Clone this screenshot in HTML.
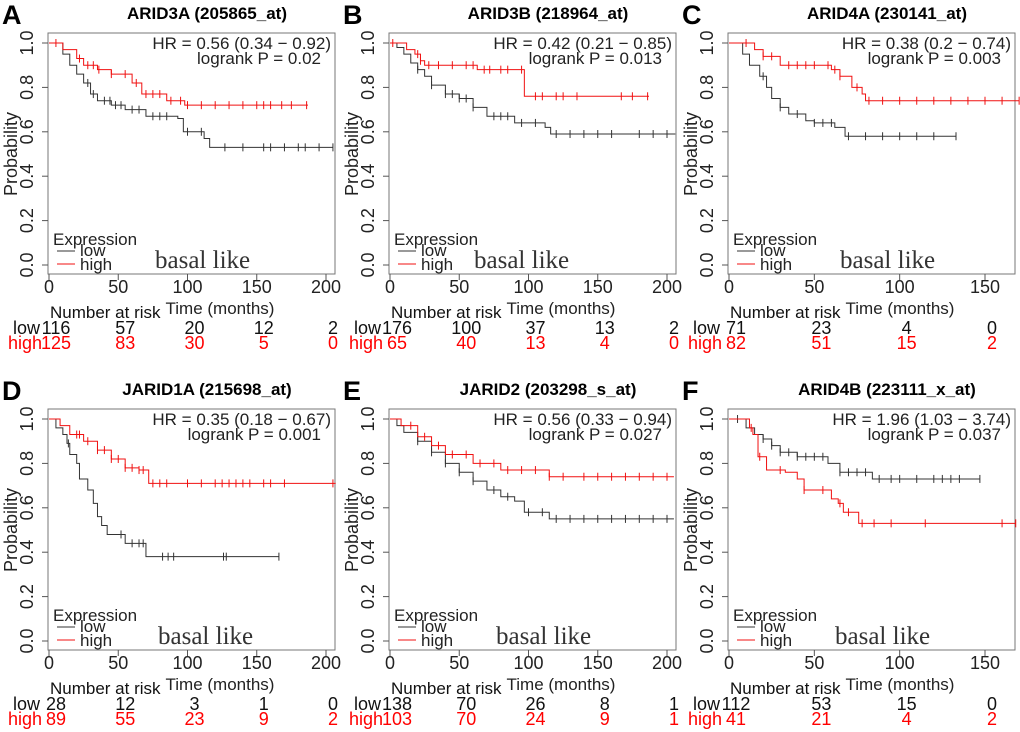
<!DOCTYPE html>
<html><head><meta charset="utf-8"><style>
html,body{margin:0;padding:0;background:#fff;}
svg{display:block;font-family:"Liberation Sans",Arial,sans-serif;}
</style></head><body>
<svg id="fig" width="1020" height="732" viewBox="0 0 1020 732" xmlns="http://www.w3.org/2000/svg"></svg>
<script>
// ---- data ----
const panelLetters = ["A","B","C","D","E","F"];
const panelTitles = ["ARID3A (205865_at)","ARID3B (218964_at)","ARID4A (230141_at)","JARID1A (215698_at)","JARID2 (203298_s_at)","ARID4B (223111_x_at)"];
const hrTexts = ["HR = 0.56 (0.34 \u2212 0.92)","HR = 0.42 (0.21 \u2212 0.85)","HR = 0.38 (0.2 \u2212 0.74)","HR = 0.35 (0.18 \u2212 0.67)","HR = 0.56 (0.33 \u2212 0.94)","HR = 1.96 (1.03 \u2212 3.74)"];
const pTexts = ["logrank P = 0.02","logrank P = 0.013","logrank P = 0.003","logrank P = 0.001","logrank P = 0.027","logrank P = 0.037"];
const xMaxTicks = [200,200,150,200,200,150];
const riskLow = [[116,57,20,12,2],[176,100,37,13,2],[71,23,4,0],[28,12,3,1,0],[138,70,26,8,1],[112,53,15,0]];
const riskHigh = [[125,83,30,5,0],[65,40,13,4,0],[82,51,15,2],[89,55,23,9,2],[103,70,24,9,1],[41,21,4,2]];
const lowT = [
 [0,10,15,20,25,30,35,45,55,70,93,97,112,116,205],
 [0,5,10,15,20,25,30,40,50,60,70,90,112,116,206],
 [0,8,12,18,22,25,30,35,45,50,62,68,133],
 [0,5,10,13,15,20,22,28,32,35,38,42,55,70,166],
 [0,5,10,20,30,40,50,60,70,80,90,97,115,205],
 [0,10,15,20,25,30,40,55,58,65,84,147]
];
const lowS = [
 [1,0.95,0.9,0.86,0.82,0.77,0.74,0.72,0.7,0.67,0.66,0.6,0.57,0.53,0.53],
 [1,0.98,0.95,0.91,0.88,0.85,0.81,0.77,0.75,0.71,0.67,0.64,0.62,0.59,0.59],
 [1,0.95,0.9,0.85,0.8,0.75,0.71,0.68,0.65,0.64,0.62,0.58,0.58],
 [1,0.96,0.93,0.89,0.84,0.8,0.73,0.68,0.62,0.56,0.52,0.48,0.44,0.38,0.38],
 [1,0.97,0.94,0.9,0.85,0.8,0.76,0.72,0.68,0.65,0.63,0.58,0.55,0.55],
 [1,0.96,0.93,0.91,0.88,0.85,0.83,0.83,0.8,0.76,0.73,0.73]
];
const highT = [
 [0,10,20,25,35,45,60,67,85,98,187],
 [0,12,18,22,25,63,97,187],
 [0,15,20,30,55,60,65,72,78,80,170],
 [0,8,15,25,35,45,55,65,72,207],
 [0,8,20,30,40,60,80,115,205],
 [0,12,14,17,22,33,40,44,58,60,64,67,76,168]
];
const highS = [
 [1,0.97,0.93,0.9,0.88,0.86,0.82,0.77,0.74,0.72,0.72],
 [1,0.97,0.95,0.92,0.9,0.88,0.76,0.76],
 [1,0.97,0.94,0.9,0.9,0.88,0.85,0.8,0.77,0.74,0.74],
 [1,0.97,0.93,0.9,0.86,0.82,0.78,0.77,0.71,0.71],
 [1,0.97,0.92,0.88,0.84,0.8,0.77,0.74,0.74],
 [1,0.96,0.93,0.83,0.77,0.76,0.73,0.68,0.68,0.64,0.62,0.58,0.53,0.53]
];
const lowCens = [
 [28,32,40,44,48,52,60,65,75,80,85,100,110,127,140,155,160,170,180,185,195,205],
 [20,30,40,45,50,55,60,75,80,85,95,105,120,130,140,150,160,180,190,200],
 [20,30,40,50,55,60,70,80,90,100,110,120,133],
 [14,52,60,65,68,82,86,90,126,128,166],
 [20,30,40,50,60,75,85,100,110,120,130,140,150,160,170,180,190,200],
 [5,20,25,30,35,40,45,50,55,65,70,75,80,88,95,100,110,120,125,130,135,147]
];
const highCens = [
 [5,22,28,32,36,45,55,63,70,75,80,88,95,100,110,120,130,140,150,155,160,168,175,186],
 [2,20,22,28,35,45,55,60,68,72,80,85,95,105,110,120,125,135,167,175,186],
 [10,20,25,35,40,45,50,58,62,65,75,82,90,100,110,120,130,140,150,160,170],
 [20,22,28,35,40,45,50,55,60,65,68,75,80,85,100,110,120,125,130,135,140,145,155,160,170,205],
 [15,25,35,45,55,65,75,85,95,105,115,125,140,150,160,170,180,190,200],
 [13,18,30,44,55,65,70,78,85,95,115,160,168]
];

// ---- drawing ----
const NS = "http://www.w3.org/2000/svg";
const svg = document.getElementById("fig");
function mk(tag, attrs, parent, text){
  const e = document.createElementNS(NS, tag);
  for (const k in attrs) e.setAttribute(k, attrs[k]);
  if (text !== undefined) e.textContent = text;
  (parent||svg).appendChild(e);
  return e;
}
const colX = [0,341,680], rowY = [0,376];
const BOXL=48, BOXR=335, BOXT=33, BOXB=274, X0=49, Y1=43, Y0=265;

function stepAt(T,S,t){ let v=S[0]; for(let i=0;i<T.length;i++){ if(T[i]<=t) v=S[i]; } return v; }

for (let p=0;p<6;p++){
  const ox = colX[p%3], oy = rowY[Math.floor(p/3)];
  const g = mk("g",{transform:`translate(${ox},${oy})`});
  
  
  const xm = xMaxTicks[p];
  const pxPer = xm===200 ? 277/200 : 256/150;
  const sx = t => X0 + t*pxPer;
  const sy = v => Y0 - v*(Y0-Y1);

  const letter = mk("text",{x:2,y:24,"font-size":27,"font-weight":"bold"},g,panelLetters[p]);
  
  
  const title = mk("text",{x:207,y:19,"font-size":17,"font-weight":"bold","text-anchor":"middle"},g,panelTitles[p]);
  
  

  const box = mk("rect",{x:BOXL,y:BOXT,width:BOXR-BOXL,height:BOXB-BOXT,fill:"none",stroke:"#777","stroke-width":1},g);
  
  

  const yTicks=[0,0.2,0.4,0.6,0.8,1.0];
  yTicks.forEach(v=>{
    mk("line",{x1:BOXL-6,x2:BOXL,y1:sy(v),y2:sy(v),stroke:"#555"},g);
    const t=mk("text",{x:0,y:0,"font-size":18,"text-anchor":"middle",fill:"#222",transform:`translate(33,${sy(v)}) rotate(-90)`},g,v.toFixed(1));
    
    
  });
  const yl=mk("text",{x:0,y:0,"font-size":18,"text-anchor":"middle",fill:"#222",transform:`translate(17,${(Y0+Y1)/2}) rotate(-90)`},g,"Probability");
  
  

  const xTicks=[]; for(let t=0;t<=xm;t+=50) xTicks.push(t);
  xTicks.forEach(t=>{
    mk("line",{x1:sx(t),x2:sx(t),y1:BOXB,y2:BOXB+6,stroke:"#555"},g);
    const tl=mk("text",{x:sx(t),y:293,"font-size":18,"text-anchor":"middle",fill:"#222"},g,String(t));
    
    
  });
  const xl=mk("text",{x:220,y:314,"font-size":17,"text-anchor":"middle",fill:"#222"},g,"Time (months)");
  
  

  function curve(T,S,C,color,name){
    let d=`M${sx(T[0])},${sy(S[0])}`;
    for(let i=1;i<T.length;i++){ d+=`H${sx(T[i])}V${sy(S[i])}`; }
    const path=mk("path",{d:d,fill:"none",stroke:color,"stroke-width":1},g);
    
    
    C.forEach(t=>{
      const x=sx(t), y=sy(stepAt(T,S,t));
      const c=mk("line",{x1:x,x2:x,y1:y-4,y2:y+4,stroke:color,"stroke-width":1},g);
      
      
    });
  }
  curve(lowT[p],lowS[p],lowCens[p],"#333","low");
  curve(highT[p],highS[p],highCens[p],"#f01010","high");

  const hr=mk("text",{x:BOXR-4,y:49,"font-size":17,"text-anchor":"end",fill:"#222"},g,hrTexts[p]);
  
  
  const pv=mk("text",{x:BOXR-14,y:64,"font-size":17,"text-anchor":"end",fill:"#222"},g,pTexts[p]);
  
  

  const lg=mk("g",{},g);
  
  
  mk("text",{x:53,y:245,"font-size":17,fill:"#222"},lg,"Expression");
  mk("line",{x1:57,x2:75,y1:251,y2:251,stroke:"#333"},lg);
  const ll=mk("text",{x:80,y:256,"font-size":17,fill:"#222"},lg,"low");
  
  
  mk("line",{x1:57,x2:75,y1:264,y2:264,stroke:"#f01010"},lg);
  const lh=mk("text",{x:80,y:270,"font-size":17,fill:"#222"},lg,"high");
  
  
  const bl=mk("text",{x:[155,133,160,158,155,155][p],y:268,"font-size":25,fill:"#333","font-family":"'Liberation Serif',serif"},g,"basal like");
  
  

  const nr=mk("text",{x:50,y:318,"font-size":17,fill:"#111"},g,"Number at risk");
  
  
  const rl=mk("text",{x:40,y:334,"font-size":18,fill:"#111","text-anchor":"end"},g,"low");
  
  
  const rh=mk("text",{x:42,y:349,"font-size":18,fill:"#ff0000","text-anchor":"end"},g,"high");
  
  
  xTicks.forEach((t,i)=>{
    const a=mk("text",{x:sx(t)+7,y:334,"font-size":18,fill:"#111","text-anchor":"middle"},g,String(riskLow[p][i]));
    
    
    const b=mk("text",{x:sx(t)+7,y:349,"font-size":18,fill:"#ff0000","text-anchor":"middle"},g,String(riskHigh[p][i]));
    
    
  });
}
</script>
</body></html>
